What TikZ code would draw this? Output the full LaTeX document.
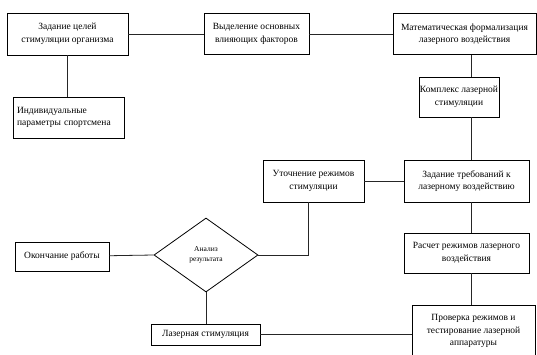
\documentclass[tikz,border=0pt]{standalone}
\usepackage{fontspec}
\setmainfont{Liberation Serif}
\newfontfamily\boxfont{Liberation Serif}
\usetikzlibrary{shapes.geometric}
\begin{document}
\begin{tikzpicture}[x=1pt,y=-1pt,
  box/.style={draw=black,line width=0.8pt,fill=white,inner sep=1pt,align=center,
    font=\boxfont\fontsize{9.5}{12.5}\selectfont},
  link/.style={draw=black!85,line width=0.8pt}]
\useasboundingbox (0,0) rectangle (537,355);
\fill[white] (0,0) rectangle (537,355);
\node[box,minimum width=121pt,minimum height=42pt] (b1) at (67.5,34) {Задание целей\\стимуляции организма};
\node[box,minimum width=105pt,minimum height=41pt] (b2) at (256.5,34) {Выделение основных\\влияющих факторов};
\node[box,minimum width=143pt,minimum height=41pt] (b3) at (464.5,34) {Математическая формализация\\лазерного воздействия};
\node[box,minimum width=111pt,minimum height=41pt,text width=103pt,align=left] (b4) at (68.5,117.5) {Индивидуальные\\параметры спортсмена};
\node[box,minimum width=76pt,minimum height=40pt] (b5) at (459,97) {Комплекс лазерной\\стимуляции};
\node[box,minimum width=125pt,minimum height=42pt] (b6) at (466.5,181) {Задание требований к\\лазерному воздействию};
\node[box,minimum width=101pt,minimum height=42pt] (b7) at (313.5,181) {Уточнение режимов\\стимуляции};
\node[box,minimum width=125pt,minimum height=40pt] (b10) at (466.5,253) {Расчет режимов лазерного\\воздействия};
\node[box,minimum width=123pt,minimum height=52pt] (b11) at (473.5,331) {Проверка режимов и\\тестирование лазерной\\аппаратуры};
\node[box,minimum width=94pt,minimum height=29pt] (b8) at (62,256.5) {Окончание работы};
\node[box,minimum width=109pt,minimum height=21pt] (b9) at (205.5,334.5) {Лазерная стимуляция};
\node[draw=black,line width=0.8pt,diamond,minimum width=104pt,minimum height=74pt,inner sep=0pt,align=center,
  font=\boxfont\fontsize{7.5}{10}\selectfont] (d) at (206,255) {Анализ\\результата};
\coordinate (vx) at (471,0);
\coordinate (vy) at (308,0);
\draw[link] (b1) -- (b2);
\draw[link] (b2) -- (b3);
\draw[link] (b1.south) -- (b4.north -| b1.south);
\draw[link] (b3.south -| vx) -- (b5.north -| vx);
\draw[link] (b5.south -| vx) -- (b6.north -| vx);
\draw[link] (b6.south -| vx) -- (b10.north -| vx);
\draw[link] (b10.south -| vx) -- (b11.north -| vx);
\draw[link] (b7) -- (b6);
\draw[link] (b7.south -| vy) |- (d.east);
\draw[link] (b8) -- (d.west);
\draw[link] (d.south) -- (b9.north -| d.south);
\draw[link] (b9.east) -- (b9.east -| b11.west);
\end{tikzpicture}
\end{document}
